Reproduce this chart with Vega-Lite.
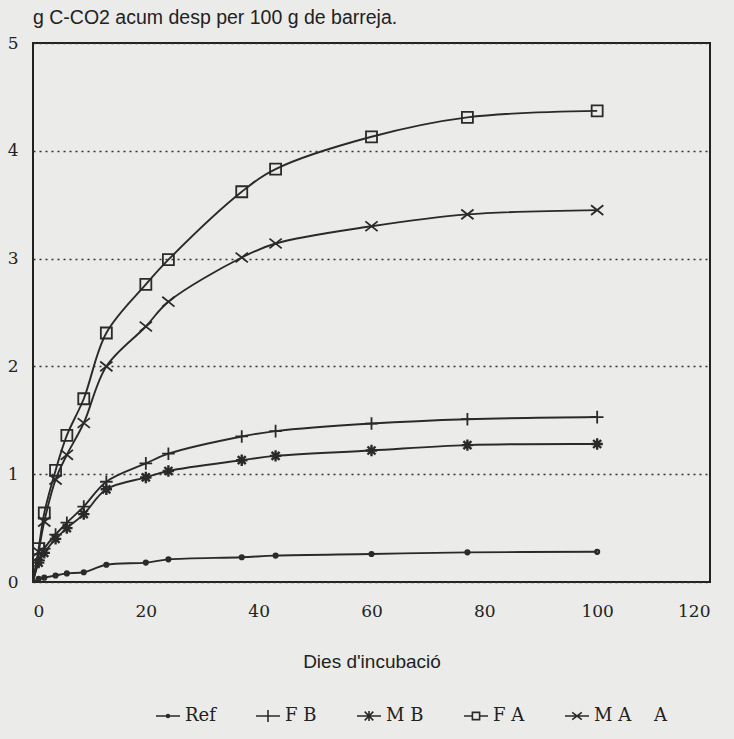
{
  "$schema": "https://vega.github.io/schema/vega-lite/v6.json",
  "width": 677,
  "height": 539,
  "autosize": "none",
  "padding": {"left": 33, "top": 43, "right": 24, "bottom": 157},
  "background": "#ebebe9",
  "title": {
    "text": "g C-CO2 acum desp per 100 g de barreja.",
    "anchor": "start",
    "frame": "group",
    "font": "Liberation Sans",
    "fontSize": 19.5,
    "fontWeight": "normal",
    "color": "#222222",
    "offset": 6
  },
  "config": {
    "view": {"stroke": "#222222", "strokeWidth": 2},
    "font": "DejaVu Serif"
  },
  "datasets": {
    "curves": [
      {"day": 0, "series": "Ref", "v": 0},
      {"day": 1, "series": "Ref", "v": 0.03},
      {"day": 2, "series": "Ref", "v": 0.04},
      {"day": 4, "series": "Ref", "v": 0.06},
      {"day": 6, "series": "Ref", "v": 0.08},
      {"day": 9, "series": "Ref", "v": 0.09},
      {"day": 13, "series": "Ref", "v": 0.16},
      {"day": 20, "series": "Ref", "v": 0.18},
      {"day": 24, "series": "Ref", "v": 0.21},
      {"day": 37, "series": "Ref", "v": 0.23},
      {"day": 43, "series": "Ref", "v": 0.245},
      {"day": 60, "series": "Ref", "v": 0.26},
      {"day": 77, "series": "Ref", "v": 0.275},
      {"day": 100, "series": "Ref", "v": 0.28},

      {"day": 0, "series": "F B", "v": 0},
      {"day": 1, "series": "F B", "v": 0.2},
      {"day": 2, "series": "F B", "v": 0.31},
      {"day": 4, "series": "F B", "v": 0.44},
      {"day": 6, "series": "F B", "v": 0.55},
      {"day": 9, "series": "F B", "v": 0.7},
      {"day": 13, "series": "F B", "v": 0.93},
      {"day": 20, "series": "F B", "v": 1.1},
      {"day": 24, "series": "F B", "v": 1.19},
      {"day": 37, "series": "F B", "v": 1.35},
      {"day": 43, "series": "F B", "v": 1.4},
      {"day": 60, "series": "F B", "v": 1.47},
      {"day": 77, "series": "F B", "v": 1.51},
      {"day": 100, "series": "F B", "v": 1.53},

      {"day": 0, "series": "M B", "v": 0},
      {"day": 1, "series": "M B", "v": 0.18},
      {"day": 2, "series": "M B", "v": 0.27},
      {"day": 4, "series": "M B", "v": 0.4},
      {"day": 6, "series": "M B", "v": 0.5},
      {"day": 9, "series": "M B", "v": 0.63},
      {"day": 13, "series": "M B", "v": 0.86},
      {"day": 20, "series": "M B", "v": 0.97},
      {"day": 24, "series": "M B", "v": 1.03},
      {"day": 37, "series": "M B", "v": 1.13},
      {"day": 43, "series": "M B", "v": 1.17},
      {"day": 60, "series": "M B", "v": 1.22},
      {"day": 77, "series": "M B", "v": 1.27},
      {"day": 100, "series": "M B", "v": 1.28},

      {"day": 0, "series": "F A", "v": 0},
      {"day": 1, "series": "F A", "v": 0.31},
      {"day": 2, "series": "F A", "v": 0.64},
      {"day": 4, "series": "F A", "v": 1.035},
      {"day": 6, "series": "F A", "v": 1.36},
      {"day": 9, "series": "F A", "v": 1.7},
      {"day": 13, "series": "F A", "v": 2.31},
      {"day": 20, "series": "F A", "v": 2.76},
      {"day": 24, "series": "F A", "v": 2.99},
      {"day": 37, "series": "F A", "v": 3.62},
      {"day": 43, "series": "F A", "v": 3.83},
      {"day": 60, "series": "F A", "v": 4.13},
      {"day": 77, "series": "F A", "v": 4.31},
      {"day": 100, "series": "F A", "v": 4.37},

      {"day": 0, "series": "M A", "v": 0},
      {"day": 1, "series": "M A", "v": 0.28},
      {"day": 2, "series": "M A", "v": 0.56},
      {"day": 4, "series": "M A", "v": 0.95},
      {"day": 6, "series": "M A", "v": 1.18},
      {"day": 9, "series": "M A", "v": 1.475},
      {"day": 13, "series": "M A", "v": 2.0},
      {"day": 20, "series": "M A", "v": 2.37},
      {"day": 24, "series": "M A", "v": 2.6},
      {"day": 37, "series": "M A", "v": 3.01},
      {"day": 43, "series": "M A", "v": 3.14},
      {"day": 60, "series": "M A", "v": 3.3},
      {"day": 77, "series": "M A", "v": 3.41},
      {"day": 100, "series": "M A", "v": 3.45}
    ],
    "xticks": [
      {"day": 20}, {"day": 40}, {"day": 60}, {"day": 80}, {"day": 100}
    ],
    "yticks": [
      {"v": 1}, {"v": 2}, {"v": 3}, {"v": 4}
    ]
  },
  "data": {"name": "curves"},
  "encoding": {
    "x": {
      "field": "day",
      "type": "quantitative",
      "scale": {"domain": [0, 120], "nice": false},
      "axis": {
        "values": [0, 20, 40, 60, 80, 100, 120],
        "title": "Dies d'incubació",
        "titleFont": "Liberation Sans",
        "titleFontSize": 19,
        "titleFontWeight": "normal",
        "titleColor": "#222222",
        "titlePadding": 33,
        "labelFont": "DejaVu Serif",
        "labelFontSize": 17,
        "labelColor": "#222222",
        "labelPadding": 21,
        "ticks": false,
        "domain": false,
        "grid": false
      }
    },
    "y": {
      "field": "v",
      "type": "quantitative",
      "scale": {"domain": [0, 5], "nice": false},
      "axis": {
        "values": [0, 1, 2, 3, 4, 5],
        "title": null,
        "labelFont": "DejaVu Serif",
        "labelFontSize": 17,
        "labelColor": "#222222",
        "labelPadding": 15,
        "ticks": false,
        "domain": false,
        "grid": true,
        "gridDash": [2, 4],
        "gridColor": "#333333",
        "gridWidth": 1.5,
        "gridOpacity": 1
      }
    }
  },
  "resolve": {"scale": {"shape": "independent"}},
  "layer": [
    {
      "data": {"name": "xticks"},
      "mark": {"type": "rule", "color": "#222222", "strokeWidth": 2},
      "encoding": {
        "y": {"datum": 0},
        "y2": {"datum": 0.093}
      }
    },
    {
      "data": {"name": "yticks"},
      "mark": {"type": "rule", "color": "#222222", "strokeWidth": 2},
      "encoding": {
        "x": {"datum": 0},
        "x2": {"datum": 1.45}
      }
    },
    {
      "mark": {"type": "line", "interpolate": "catmull-rom", "color": "#2a2a2a", "strokeWidth": 1.9},
      "encoding": {"detail": {"field": "series", "type": "nominal"}}
    },
    {
      "transform": [{"filter": "datum.day > 0"}],
      "mark": {"type": "point", "filled": false, "stroke": "#2a2a2a", "opacity": 1},
      "encoding": {
        "shape": {
          "field": "series",
          "type": "nominal",
          "scale": {
            "domain": ["Ref", "F B", "M B", "F A", "M A"],
            "range": [
              "circle",
              "M-1,0H1M0,-1V1",
              "M-1,0H1M0,-1V1M-0.7,-0.7L0.7,0.7M-0.7,0.7L0.7,-0.7",
              "square",
              "M-1,-0.8L1,0.8M-1,0.8L1,-0.8"
            ]
          },
          "legend": null
        },
        "size": {
          "condition": [
            {"test": "datum.series == 'Ref'", "value": 14},
            {"test": "datum.series == 'F B'", "value": 160},
            {"test": "datum.series == 'M B'", "value": 130},
            {"test": "datum.series == 'F A'", "value": 121}
          ],
          "value": 150
        },
        "strokeWidth": {
          "condition": {"test": "datum.series == 'Ref' || datum.series == 'M B'", "value": 2.4},
          "value": 1.8
        }
      }
    },
    {
      "transform": [{"filter": "datum.day == 100"}],
      "mark": {"type": "point", "filled": false, "stroke": "#2a2a2a", "opacity": 0, "size": 576, "strokeWidth": 1.6},
      "encoding": {
        "shape": {
          "field": "series",
          "type": "nominal",
          "scale": {
            "domain": ["Ref", "F B", "M B", "F A", "M A"],
            "range": [
              "M-1,0H1M0.12,0A0.12,0.12 0 1,1 -0.12,0A0.12,0.12 0 1,1 0.12,0",
              "M-1,0H1M0,-0.5V0.5",
              "M-1,0H1M0,-0.42V0.42M-0.36,-0.36L0.36,0.36M-0.36,0.36L0.36,-0.36",
              "M-1,0H-0.3M0.3,0H1M-0.3,-0.3H0.3V0.3H-0.3Z",
              "M-1,0H1M-0.4,-0.3L0.4,0.3M-0.4,0.3L0.4,-0.3"
            ]
          },
          "legend": {
            "orient": "none",
            "legendX": 122,
            "legendY": 660,
            "direction": "horizontal",
            "columns": 5,
            "title": null,
            "gridAlign": "none",
            "columnPadding": 36,
            "labelFont": "DejaVu Serif",
            "labelFontSize": 18,
            "labelColor": "#222222",
            "labelOffset": 4,
            "symbolSize": 576,
            "symbolStrokeColor": "#2a2a2a",
            "symbolStrokeWidth": 1.6,
            "symbolFillColor": "transparent",
            "symbolOpacity": 1,
            "labelExpr": "datum.label == 'M A' ? 'M A\u00a0\u00a0\u00a0\u00a0A' : datum.label",
            "encode": {
              "symbols": {
                "update": {
                  "opacity": {"value": 1},
                  "strokeOpacity": {"value": 1}
                }
              }
            }
          }
        }
      }
    }
  ]
}
